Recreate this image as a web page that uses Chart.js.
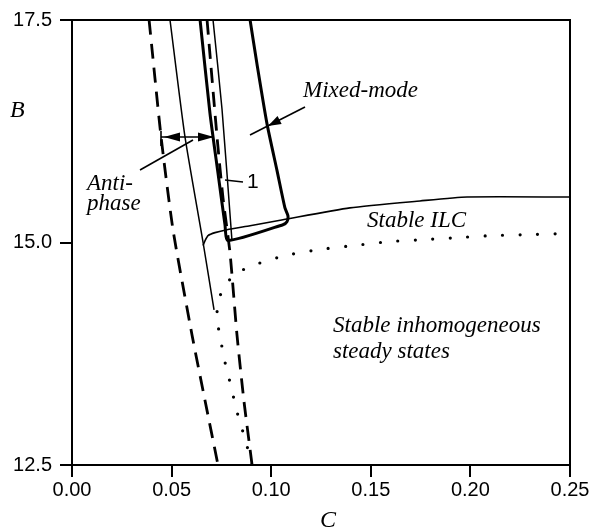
<!DOCTYPE html>
<html>
<head>
<meta charset="utf-8">
<script src="https://cdn.jsdelivr.net/npm/chart.js@4/dist/chart.umd.min.js"></script>
<style>
  html, body { margin: 0; padding: 0; background: #fff; }
  #wrap { width: 603px; height: 529px; position: relative; }
</style>
</head>
<body>
<div id="wrap"><canvas id="chart"></canvas></div>
<script>
// axis ticks
const cTicks = [0.00, 0.05, 0.10, 0.15, 0.20, 0.25];
const bTicks = [12.5, 15.0, 17.5];

// left dashed boundary
const dashLeftC = [0.0387, 0.0447, 0.0507, 0.0602, 0.0668, 0.0733];
const dashLeftB = [17.5, 16.189, 15.144, 13.967, 13.222, 12.5];

// right dashed boundary
const dashRightC = [0.0678, 0.0728, 0.0758, 0.0793, 0.0828, 0.0863, 0.0904];
const dashRightB = [17.5, 16.189, 15.5, 14.889, 13.967, 13.222, 12.5];

// thin solid line on the left (anti-phase edge)
const thinLeftC = [0.0492, 0.0567, 0.0658, 0.0713];
const thinLeftB = [17.5, 16.189, 15.0, 14.244];

// stable ILC branch
const ilcC = [0.0658, 0.0668, 0.0683, 0.0718, 0.0778, 0.0894, 0.1059, 0.1395, 0.1747, 0.1983, 0.25];
const ilcB = [14.967, 15.022, 15.078, 15.111, 15.144, 15.189, 15.256, 15.389, 15.467, 15.511, 15.511];

// thin line bounding region 1
const thinRightC = [0.0708, 0.0753, 0.0803];
const thinRightB = [17.5, 16.5, 15.022];

// mixed-mode region outline (thick)
const mixedC = [0.0643, 0.0693, 0.0733, 0.0768, 0.0783, 0.1059, 0.1079, 0.1084, 0.1069, 0.1029, 0.0979, 0.0929, 0.0894];
const mixedB = [17.5, 16.444, 15.778, 15.2, 15.022, 15.2, 15.233, 15.3, 15.389, 15.811, 16.333, 17.0, 17.5];

// dotted curve
const dotC = [0.0899, 0.0879, 0.0853, 0.0828, 0.0808, 0.0788, 0.0768, 0.0743, 0.0728, 0.0733, 0.0768, 0.0828,
              0.0909, 0.1074, 0.1245, 0.1421, 0.1596, 0.1772, 0.1943, 0.2113, 0.2289, 0.2465];
const dotB = [12.5, 12.711, 12.911, 13.1, 13.289, 13.478, 13.656, 13.944, 14.144, 14.333, 14.522, 14.656,
              14.744, 14.856, 14.922, 14.967, 15.011, 15.033, 15.056, 15.078, 15.089, 15.1];

function pts(cs, bs) {
  return cs.map((c, i) => ({ x: c, y: bs[i] }));
}

function line(cs, bs, width, dash, cap) {
  return {
    data: pts(cs, bs),
    showLine: true,
    borderColor: '#000',
    borderWidth: width,
    borderDash: dash || [],
    borderCapStyle: cap || 'butt',
    borderJoinStyle: 'round',
    pointRadius: 0,
    tension: 0.2,
    fill: false
  };
}

const serif = '"Liberation Serif", "Times New Roman", serif';
const sans = '"Liberation Sans", Arial, sans-serif';

function arrowHead(ctx, x, y, dx, dy, len, half) {
  const n = Math.hypot(dx, dy);
  const ux = dx / n, uy = dy / n;
  ctx.beginPath();
  ctx.moveTo(x, y);
  ctx.lineTo(x - ux * len - uy * half, y - uy * len + ux * half);
  ctx.lineTo(x - ux * len + uy * half, y - uy * len - ux * half);
  ctx.closePath();
  ctx.fill();
}

const annotations = {
  id: 'annotations',
  afterDraw(chart) {
    const ctx = chart.ctx;
    const a = chart.chartArea;
    ctx.save();
    ctx.strokeStyle = '#000';
    ctx.fillStyle = '#000';

    // frame top and right
    ctx.lineWidth = 2;
    ctx.beginPath();
    ctx.moveTo(a.left, a.top);
    ctx.lineTo(a.right, a.top);
    ctx.lineTo(a.right, a.bottom);
    ctx.stroke();

    // labels
    ctx.textBaseline = 'alphabetic';
    ctx.textAlign = 'left';
    ctx.font = 'italic 24px ' + serif;
    ctx.fillText('B', 10, 117);
    ctx.fillText('C', 320, 527);
    ctx.font = 'italic 23px ' + serif;
    ctx.fillText('Mixed-mode', 303, 97);
    ctx.fillText('Stable ILC', 367, 227);
    ctx.fillText('Stable inhomogeneous', 333, 332);
    ctx.fillText('steady states', 333, 358);
    ctx.fillText('Anti-', 87, 190);
    ctx.fillText('phase', 87, 210);
    ctx.font = '21px ' + sans;
    ctx.fillText('1', 247, 188);

    ctx.lineWidth = 1.6;
    // mixed-mode pointer
    ctx.beginPath();
    ctx.moveTo(305, 107);
    ctx.lineTo(250, 135);
    ctx.stroke();
    arrowHead(ctx, 268, 126, -55, 28, 13, 4.5);

    // double arrow across anti-phase band
    ctx.beginPath();
    ctx.moveTo(161, 137);
    ctx.lineTo(214, 137);
    ctx.moveTo(161, 131);
    ctx.lineTo(161, 146);
    ctx.stroke();
    arrowHead(ctx, 164, 137, -1, 0, 16, 4.5);
    arrowHead(ctx, 214, 137, 1, 0, 16, 4.5);

    // anti-phase pointer
    ctx.beginPath();
    ctx.moveTo(140, 170);
    ctx.lineTo(193, 140);
    ctx.stroke();

    // region 1 leader
    ctx.beginPath();
    ctx.moveTo(225, 180);
    ctx.lineTo(243, 182);
    ctx.stroke();

    ctx.restore();
  }
};

new Chart(document.getElementById('chart'), {
  type: 'scatter',
  data: {
    datasets: [
      line(dashLeftC, dashLeftB, 2.8, [15, 9]),
      line(dashRightC, dashRightB, 2.8, [15, 9]),
      line(thinLeftC, thinLeftB, 1.5),
      line(ilcC, ilcB, 1.6),
      line(thinRightC, thinRightB, 1.5),
      line(mixedC, mixedB, 3),
      line(dotC, dotB, 3.2, [0, 17.5], 'round')
    ]
  },
  options: {
    responsive: true,
    maintainAspectRatio: false,
    animation: false,
    layout: { padding: { top: 15, right: 33, left: 0, bottom: 0 } },
    plugins: { legend: { display: false }, tooltip: { enabled: false } },
    scales: {
      x: {
        type: 'linear',
        min: 0,
        max: 0.25,
        afterFit: s => { s.height = 64; },
        afterBuildTicks: s => { s.ticks = cTicks.map(v => ({ value: v })); },
        ticks: {
          color: '#000',
          font: { family: sans, size: 20 },
          padding: 1,
          maxRotation: 0,
          callback: v => v.toFixed(2)
        },
        grid: { drawOnChartArea: false, drawTicks: true, tickLength: 12, color: '#000', lineWidth: 2 },
        border: { color: '#000', width: 2 }
      },
      y: {
        type: 'linear',
        min: 12.5,
        max: 17.5,
        afterFit: s => { s.width = 72; },
        afterBuildTicks: s => { s.ticks = bTicks.map(v => ({ value: v })); },
        ticks: {
          color: '#000',
          font: { family: sans, size: 20 },
          padding: 8,
          callback: v => v.toFixed(1)
        },
        grid: { drawOnChartArea: false, drawTicks: true, tickLength: 12, color: '#000', lineWidth: 2 },
        border: { color: '#000', width: 2 }
      }
    }
  },
  plugins: [annotations]
});
</script>
</body>
</html>
